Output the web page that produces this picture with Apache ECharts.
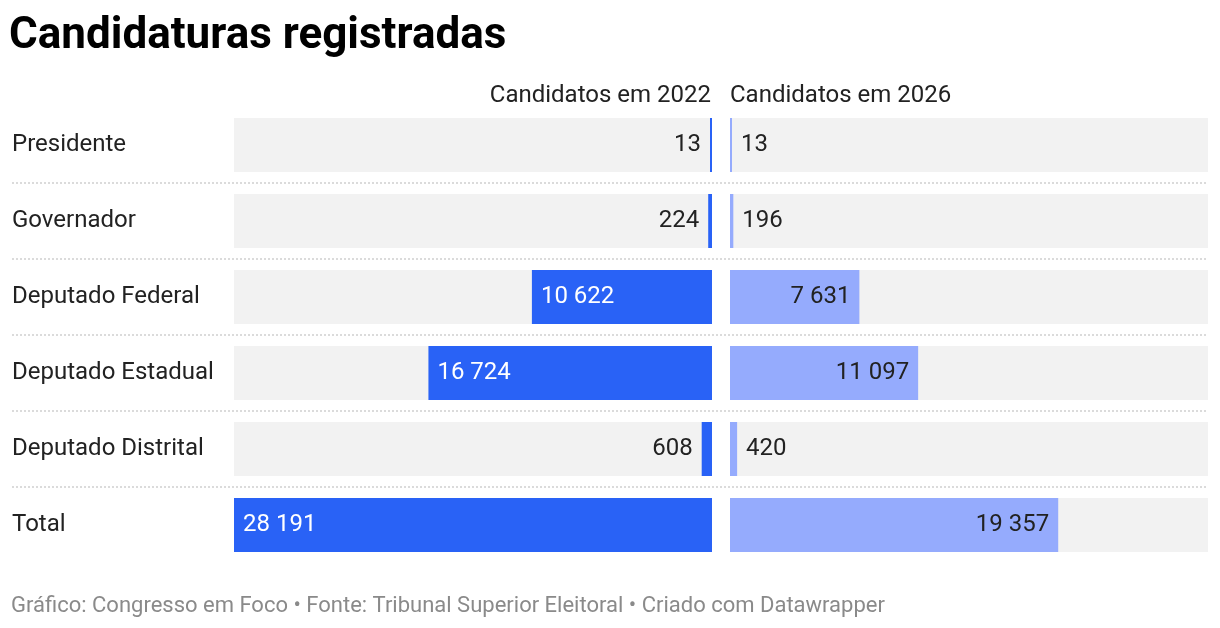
<!DOCTYPE html>
<html>
<head>
<meta charset="utf-8">
<script src="https://cdn.jsdelivr.net/npm/echarts@6/dist/echarts.min.js"></script>
<style>
  html, body { margin: 0; padding: 0; background: #fff; }
  #chart { width: 1220px; height: 628px; }
</style>
</head>
<body>
<div id="chart"></div>
<script>
const categories = ["Presidente", "Governador", "Deputado Federal", "Deputado Estadual", "Deputado Distrital", "Total"];
const values2022 = [13, 224, 10622, 16724, 608, 28191];
const values2026 = [13, 196, 7631, 11097, 420, 19357];
const seriesNames = ["Candidatos em 2022", "Candidatos em 2026"];
const maxValue = 28191;

const FONT = "Roboto";
const DARK = "#2962f6";
const LIGHT = "#95abfd";

function fmt(v) {
  return String(v).replace(/\B(?=(\d{3})+(?!\d))/g, " ");
}

// bars wide enough get the label inside, others outside
function buildData(values, side) {
  return values.map(function (v) {
    const inside = v / maxValue * 478 > 60;
    let pos;
    if (side === "left") pos = inside ? "insideLeft" : "left";
    else pos = inside ? "insideRight" : "right";
    return {
      value: v,
      label: {
        position: pos,
        color: (side === "left" && inside) ? "#fff" : "#222"
      }
    };
  });
}

const labelBase = {
  show: true,
  fontFamily: FONT,
  fontSize: 24,
  distance: 9,
  padding: [3, 0, 0, 0],
  formatter: function (p) { return fmt(p.value); }
};

var dom = document.getElementById("chart");
var myChart = echarts.init(dom, null, { renderer: "canvas" });

var option = {
  animation: false,
  backgroundColor: "#fff",
  title: [
    {
      text: "Candidaturas registradas",
      left: 9, top: 15, padding: 0,
      textStyle: { fontFamily: FONT, fontSize: 44, fontWeight: "bold", color: "#000" }
    },
    {
      text: seriesNames[0],
      left: 711, top: 84, padding: 0, textAlign: "right",
      textStyle: { fontFamily: FONT, fontSize: 24, fontWeight: "normal", color: "#222" }
    },
    {
      text: seriesNames[1],
      left: 730, top: 84, padding: 0,
      textStyle: { fontFamily: FONT, fontSize: 24, fontWeight: "normal", color: "#222" }
    },
    {
      text: "Gráfico: Congresso em Foco • Fonte: Tribunal Superior Eleitoral • Criado com Datawrapper",
      left: 11, top: 595, padding: 0,
      textStyle: { fontFamily: FONT, fontSize: 22, fontWeight: "normal", color: "#8a8a8a" }
    }
  ],
  grid: [
    { left: 234, width: 478, top: 107, height: 456 },
    { left: 730, width: 478, top: 107, height: 456 },
    { left: 12, width: 1196, top: 107, height: 456 }
  ],
  xAxis: [
    { type: "value", gridIndex: 0, min: 0, max: maxValue, inverse: true, show: false },
    { type: "value", gridIndex: 1, min: 0, max: maxValue, show: false },
    { type: "value", gridIndex: 2, min: 0, max: 1, show: false }
  ],
  yAxis: [
    {
      type: "category", gridIndex: 0, data: categories, inverse: true,
      axisLine: { show: false }, axisTick: { show: false },
      axisLabel: {
        align: "left", margin: 222, padding: [4, 0, 0, 0],
        fontFamily: FONT, fontSize: 24, color: "#222"
      }
    },
    {
      type: "category", gridIndex: 1, data: categories, inverse: true,
      axisLine: { show: false }, axisTick: { show: false }, axisLabel: { show: false }
    },
    {
      type: "category", gridIndex: 2, data: categories, inverse: true,
      axisLine: { show: false }, axisTick: { show: false }, axisLabel: { show: false },
      splitLine: {
        show: true, showMinLine: false, showMaxLine: false,
        lineStyle: { color: "#cfcfcf", type: [2, 2], width: 1.5 }
      }
    }
  ],
  series: [
    {
      name: seriesNames[0],
      type: "bar",
      xAxisIndex: 0, yAxisIndex: 0,
      barWidth: 54,
      barMinHeight: 2,
      itemStyle: { color: DARK },
      showBackground: true,
      backgroundStyle: { color: "#f2f2f2" },
      label: labelBase,
      data: buildData(values2022, "left")
    },
    {
      name: seriesNames[1],
      type: "bar",
      xAxisIndex: 1, yAxisIndex: 1,
      barWidth: 54,
      barMinHeight: 2,
      itemStyle: { color: LIGHT },
      showBackground: true,
      backgroundStyle: { color: "#f2f2f2" },
      label: labelBase,
      data: buildData(values2026, "right")
    }
  ]
};

myChart.setOption(option);
window.addEventListener("resize", myChart.resize);
</script>
</body>
</html>
